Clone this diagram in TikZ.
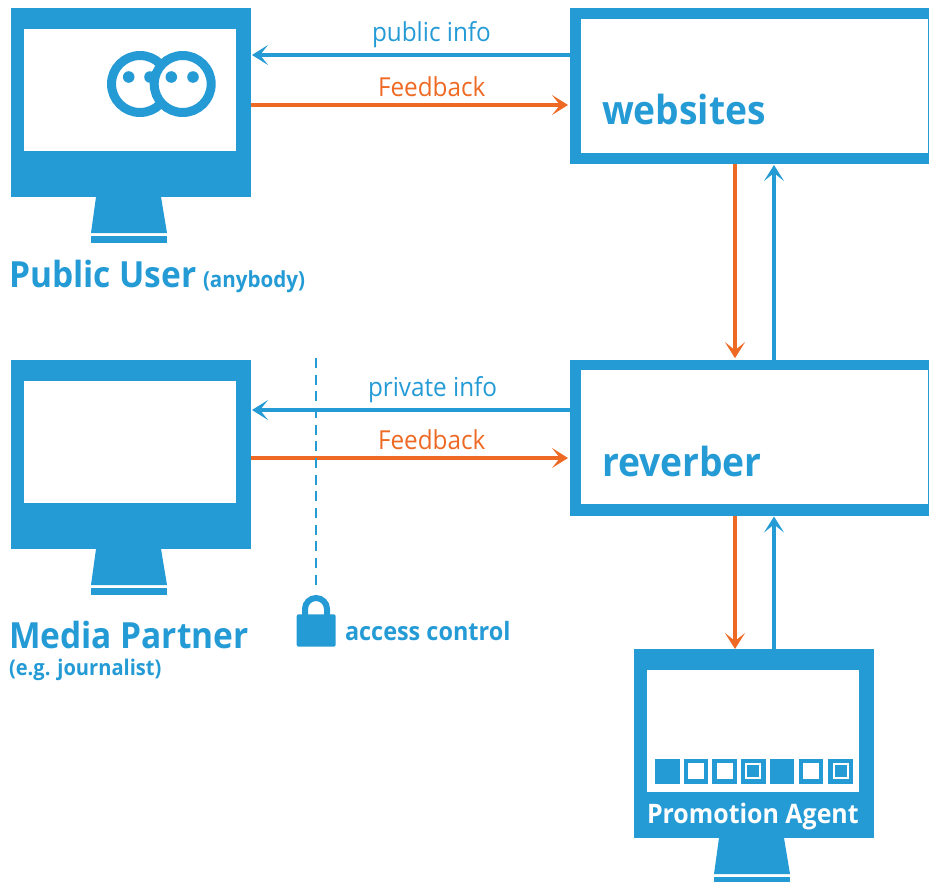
\documentclass[tikz,border=0pt]{standalone}
\usepackage{fontspec}
\setmainfont{Open Sans}[FakeStretch=0.93]
\usetikzlibrary{arrows.meta}
\definecolor{bl}{HTML}{259BD6}
\definecolor{og}{HTML}{EE6A24}
\tikzset{
  x=0.75pt,y=-0.75pt,
  solid box/.style={fill=bl,draw=none,inner sep=0pt,outer sep=0pt,rectangle},
  screen/.style={fill=white,draw=none,inner sep=0pt,outer sep=0pt,rectangle},
  arr/.style={line width=3pt,-{Stealth[length=12pt,width=15pt,inset=6pt]}},
  barl/.style={draw=bl,arr},
  baro/.style={draw=og,arr},
  lbl/.style={inner sep=0pt,outer sep=0pt,anchor=base west,text=bl},
}
\newcommand{\monitor}[3]{%
  \node[solid box,minimum width=180pt,minimum height=141.75pt,anchor=north west] (#1) at (#2,#3) {};
  \begin{scope}[shift={(#2,#3)}]
    \node[screen,minimum width=158.8pt,minimum height=91.1pt,anchor=north west] (#1s) at (13.3,21.3) {};
    \fill[bl] (85,189) -- (150,189) -- (156,225) -- (80,225) -- cycle;
    \fill[bl] (80,227.5) rectangle (156,235);
  \end{scope}}
\newcommand{\sitebox}[3]{%
  \node[solid box,minimum width=269.25pt,minimum height=117pt,anchor=north west] (#1) at (570,#2) {};
  \node[screen,minimum width=260.25pt,minimum height=100.5pt,anchor=north west] (#1s) at (581,#3) {};}
\begin{document}
\begin{tikzpicture}
\useasboundingbox (0,0) rectangle (929,882);
\monitor{pub}{11}{8}
\monitor{med}{11}{360}
\monitor{pro}{634}{649}
\sitebox{web}{8}{18.5}
\sitebox{rev}{359.5}{370}
% faces
\draw[bl,line width=6.75pt,fill=white] (140,84) circle[radius=28.5];
\fill[bl] (128.7,77) circle[radius=5.8] (150,77) circle[radius=5.8];
\draw[bl,line width=6.75pt,fill=white] (182.7,84) circle[radius=28.5];
\fill[bl] (171.3,77) circle[radius=5.8] (193,77) circle[radius=5.8];
% connectors
\coordinate (y1) at (0,55);
\coordinate (y2) at (0,105);
\coordinate (y3) at (0,410);
\coordinate (y4) at (0,458);
\coordinate (xa) at (735,0);
\coordinate (xb) at (774,0);
\draw[barl] (web.west |- y1) -- ([xshift=0.75pt]pub.east |- y1);
\draw[baro] (pub.east |- y2) -- ([xshift=-1.5pt]web.west |- y2);
\draw[barl] (rev.west |- y3) -- ([xshift=0.75pt]med.east |- y3);
\draw[baro] (med.east |- y4) -- ([xshift=-1.5pt]rev.west |- y4);
\draw[baro] (xa |- web.south) -- ([yshift=1pt]xa |- rev.north);
\draw[barl] (xb |- rev.north) -- ([yshift=-0.75pt]xb |- web.south);
\draw[baro] (xa |- rev.south) -- (xa |- pro.north);
\draw[barl] (xb |- pro.north) -- ([yshift=-0.75pt]xb |- rev.south);
% access line & lock
\coordinate (lt) at (316,358);
\coordinate (lb) at (316,586);
\draw[bl,line width=1.6pt,dash pattern=on 7.5pt off 5pt] (lt) -- (lb);
\draw[bl,line width=4.5pt] (305,616) -- (305,609) arc[start angle=180,end angle=360,radius=11] -- (327,616);
\fill[bl,rounded corners=1.5pt] (296.7,614.3) rectangle (335.7,646.7);
% squares
\fill[bl] (654.7,759) rectangle +(24.8,24.5);
\foreach \x in {683.7,712.3,798.7}{
  \fill[bl] (\x,759) rectangle +(24.6,24.5);
  \fill[white] (\x+4.3,763.3) rectangle +(16,16);
}
\fill[bl] (769.7,759) rectangle +(24.6,24.5);
\foreach \x in {741,828.3}{
  \fill[bl] (\x,759) rectangle +(24.8,24.5);
  \fill[white] (\x+4.3,763.3) rectangle +(16,16);
  \fill[bl] (\x+6.3,765.3) rectangle +(12,12);
}
% labels
\node[lbl] (t1) at (372,41) {\fontsize{19.6pt}{21pt}\selectfont public info};
\node[lbl,text=og] (t2) at (378,96.5) {\fontsize{19.6pt}{21pt}\selectfont Feedback};
\node[lbl] (t3) at (368,396) {\fontsize{19.6pt}{21pt}\selectfont private info};
\node[lbl,text=og] (t4) at (378,449) {\fontsize{19.6pt}{21pt}\selectfont Feedback};
\node[lbl] (t5) at (602,124) {\fontsize{30pt}{32pt}\selectfont\bfseries websites};
\node[lbl] (t6) at (602,476) {\fontsize{30pt}{32pt}\selectfont\bfseries reverber};
\node[lbl] (t7) at (9,287) {\fontsize{27pt}{30pt}\selectfont\bfseries Public User};
\node[lbl] (t8) at (203,287) {\fontsize{16.6pt}{18pt}\selectfont\bfseries (anybody)};
\node[lbl] (t9) at (9,648) {\fontsize{27pt}{30pt}\selectfont\bfseries Media Partner};
\node[lbl] (t10) at (9,675) {\fontsize{16.2pt}{18pt}\selectfont\bfseries (e.g. journalist)};
\node[lbl] (t11) at (345,640) {\fontsize{18.9pt}{20pt}\selectfont\bfseries access control};
\node[lbl,text=white] (t12) at (647,823) {\fontsize{20.1pt}{22pt}\selectfont\bfseries Promotion Agent};
\end{tikzpicture}
\end{document}
